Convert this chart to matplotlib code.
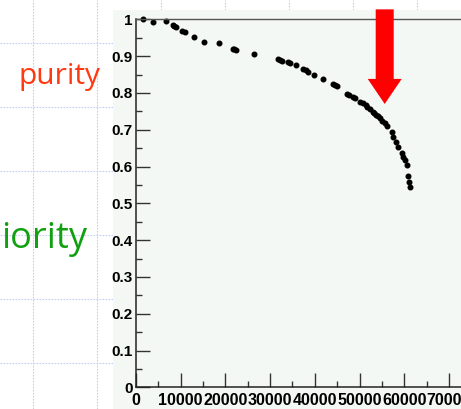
import numpy as np
import matplotlib.pyplot as plt
from matplotlib.patches import Rectangle, FancyArrow
from matplotlib.lines import Line2D

# events (x) vs purity (y)
events = [1500, 3700, 6700, 8300, 8600, 8950, 10200, 10950, 13050, 15300, 18600,
          21650, 22000, 22350, 26450, 31850, 32250, 32600, 34100, 34450, 35800,
          37450, 38000, 38550, 39850, 41800, 44150, 44500, 44900, 47300, 47700,
          48600, 49050, 50100, 50700, 51450, 51750, 52400, 52950, 53300, 53700,
          54150, 54600, 55100, 55600, 56100, 57200, 57570, 58170, 58680, 59440,
          59800, 60180, 60550, 60920, 61140, 61300]
purity = [1.000, 0.994, 0.995, 0.985, 0.983, 0.980, 0.969, 0.965, 0.953, 0.938, 0.935,
          0.919, 0.918, 0.916, 0.905, 0.892, 0.890, 0.888, 0.883, 0.882, 0.875,
          0.864, 0.861, 0.858, 0.850, 0.839, 0.824, 0.822, 0.820, 0.797, 0.794,
          0.788, 0.785, 0.776, 0.772, 0.766, 0.762, 0.756, 0.749, 0.745, 0.740,
          0.736, 0.731, 0.724, 0.717, 0.710, 0.695, 0.681, 0.667, 0.654, 0.636,
          0.627, 0.618, 0.604, 0.574, 0.559, 0.543]

xticks = [0, 10000, 20000, 30000, 40000, 50000, 60000, 70000]
yticks = [0, 0.1, 0.2, 0.3, 0.4, 0.5, 0.6, 0.7, 0.8, 0.9, 1]
ylabels = ['0', '0.1', '0.2', '0.3', '0.4', '0.5', '0.6', '0.7', '0.8', '0.9', '1']

arrow_x = 55640      # where the red arrow points
arrow_tip = 0.770

W, H = 461, 409
fig = plt.figure(figsize=(W / 100, H / 100), dpi=100)
fig.patch.set_facecolor('white')

# slide grid behind the plot
grid_kw = dict(color='#c3cff7', lw=0.8, ls=(0, (1.5, 1.2)), zorder=0)
for gx in [33, 97, 161, 225, 289, 353, 417]:
    fig.add_artist(Line2D([gx / W, gx / W], [0, 1], transform=fig.transFigure, **grid_kw))
for gy in [42.7, 106.7, 170.7, 234.7, 298.7, 362.7]:
    fig.add_artist(Line2D([0, 1], [1 - gy / H, 1 - gy / H], transform=fig.transFigure, **grid_kw))

# slide text
fig.text(100 / W, 1 - 84 / H, 'purity', color='#ff3a12', fontsize=21.5,
         family='Open Sans', ha='right', va='baseline')
fig.text(87 / W, 1 - 248 / H, 'iority', color='#10a010', fontsize=26,
         family='Open Sans', ha='right', va='baseline')

# canvas panel of the plot
bg = '#f4f8f4'
fig.add_artist(Rectangle((113 / W, 0), 1, 1 - 10 / H, transform=fig.transFigure,
                         facecolor=bg, edgecolor='none', zorder=1))

x0, x1 = 136, 136 + 8 * 44.7
y0, y1 = 387.3, 19.3
ax = fig.add_axes([x0 / W, 1 - y0 / H, (x1 - x0) / W, (y0 - y1) / H])
ax.set_zorder(2)
ax.set_facecolor(bg)

ax.plot(events, purity, 'o', color='black', ms=3.3, mec='black', clip_on=False)

ax.set_xlim(0, 80000)
ax.set_ylim(0, 1)
ax.set_xticks(xticks)
ax.set_xticklabels([str(v) for v in xticks])
ax.set_xticks(np.arange(0, 80001, 5000), minor=True)
ax.set_yticks(yticks)
ax.set_yticklabels(ylabels)
ax.set_yticks(np.arange(0, 1.01, 0.05), minor=True)

ax.tick_params(which='both', direction='in', top=False, right=False, width=1, color='#333333')
ax.tick_params(which='major', length=10)
ax.tick_params(which='minor', length=4.5)
ax.tick_params(axis='x', pad=4)
ax.tick_params(axis='y', pad=2.5)
for lab in ax.get_xticklabels():
    lab.set_family('Liberation Sans')
    lab.set_fontweight('bold')
    lab.set_fontsize(11.5)
for lab in ax.get_yticklabels():
    lab.set_family('Liberation Sans')
    lab.set_fontweight('bold')
    lab.set_fontsize(11)

for s in ['left', 'bottom']:
    ax.spines[s].set_color('#222222')
    ax.spines[s].set_linewidth(1.1)
ax.spines['top'].set_color('#555555')
ax.spines['top'].set_linewidth(1)
ax.spines['right'].set_visible(False)

# red arrow
top = 1.027
ax.add_patch(FancyArrow(arrow_x, top, 0, arrow_tip - top, width=4030, head_width=7600,
                        head_length=0.068, length_includes_head=True,
                        color='#ff0000', lw=0, clip_on=False, zorder=5))

fig.savefig('out.png', dpi=100)
